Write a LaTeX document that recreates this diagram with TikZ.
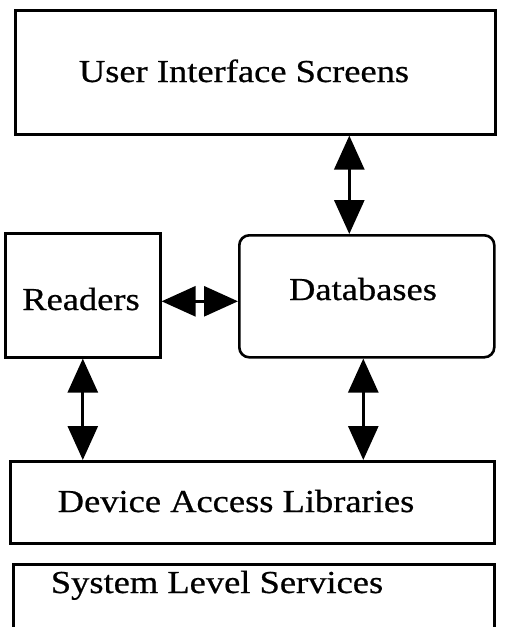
\documentclass[tikz,border=0pt]{standalone}
\usepackage{fontspec}
\setmainfont{Liberation Serif}[FakeBold=0.6]
\usetikzlibrary{arrows.meta}

\begin{document}
\begin{tikzpicture}[x=1pt,y=-1pt,
        box/.style={draw, line width=2.6pt, anchor=north west, inner sep=0pt},
        lbl/.style={font=\fontsize{32}{38}\selectfont, anchor=base, inner sep=0pt, xscale=1.14, transform shape},
        link/.style={line width=2.8pt, {Triangle[length=34pt,width=30pt]}-{Triangle[length=34pt,width=30pt]}}]
        \useasboundingbox (0,0) rectangle (508,627);

        % Draw the boxes
        \node[box, minimum width=480pt, minimum height=124pt] (ui) at (14,9) {};
        \node[box, minimum width=155pt, minimum height=124pt] (rd) at (4,232) {};
        \node[box, rounded corners=10pt, minimum width=255pt, minimum height=122pt] (db) at (238,234) {};
        \node[box, minimum width=484pt, minimum height=82pt] (dal) at (9,460) {};
        \node[box, minimum width=481pt, minimum height=90pt] (sls) at (12,563) {};

        % Put the labels in
        \node[lbl] (uitxt) at (244,82) {User Interface Screens};
        \node[lbl] (rdtxt) at (81,310) {Readers};
        \node[lbl] (dbtxt) at (363,300) {Databases};
        \node[lbl] (daltxt) at (236,512) {Device Access Libraries};
        \node[lbl] (slstxt) at (217,593) {System Level Services};

        % Points where the arrows leave the boxes
        \coordinate (dbtop) at ([xshift=-17.5pt]db.north);
        \coordinate (dbbot) at ([xshift=-3.5pt]db.south);
        \coordinate (rdside) at ([yshift=-6pt]rd.east);

        % Draw the arrows
        \draw[link] (ui.south -| dbtop) -- (dbtop);
        \draw[link] (rdside) -- (db.west |- rdside);
        \draw[link] (rd.south) -- (dal.north -| rd.south);
        \draw[link] (dbbot) -- (dal.north -| dbbot);
    \end{tikzpicture}
\end{document}
